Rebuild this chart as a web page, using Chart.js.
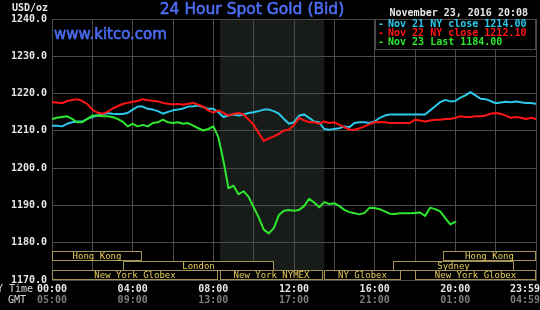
<!DOCTYPE html>
<html>
<head>
<meta charset="utf-8">
<title>24 Hour Spot Gold (Bid)</title>
<script src="https://cdn.jsdelivr.net/npm/chart.js@4.4.1/dist/chart.umd.min.js"></script>
<style>
    html, body { margin: 0; padding: 0; background: #000; }
    canvas { display: block; }
</style>
</head>
<body>
<canvas id="goldChart" width="540" height="310"></canvas>
<script>
// NY time in hours, one reading every 15 minutes
const hours = [
    0, 0.25, 0.5, 0.75, 1, 1.25, 1.5, 1.75, 2, 2.25, 2.5, 2.75,
    3, 3.25, 3.5, 3.75, 4, 4.25, 4.5, 4.75, 5, 5.25, 5.5, 5.75,
    6, 6.25, 6.5, 6.75, 7, 7.25, 7.5, 7.75, 8, 8.25, 8.5, 8.75,
    9, 9.25, 9.5, 9.75, 10, 10.25, 10.5, 10.75, 11, 11.25, 11.5, 11.75,
    12, 12.25, 12.5, 12.75, 13, 13.25, 13.5, 13.75, 14, 14.25, 14.5, 14.75,
    15, 15.25, 15.5, 15.75, 16, 16.25, 16.5, 16.75, 17, 17.25, 17.5, 17.75,
    18, 18.25, 18.5, 18.75, 19, 19.25, 19.5, 19.75, 20, 20.25, 20.5, 20.75,
    21, 21.25, 21.5, 21.75, 22, 22.25, 22.5, 22.75, 23, 23.25, 23.5, 23.75,
    24
];

// Nov 21 (cyan)
const nov21 = [
    1211.4, 1211.4, 1211.2, 1211.9, 1212.3, 1212.5, 1212.5, 1213.2, 1213.7, 1214.1, 1214.4, 1214.8,
    1214.6, 1214.5, 1214.5, 1214.8, 1215.7, 1216.5, 1216.5, 1215.9, 1215.7, 1215.3, 1214.6, 1215.1,
    1215.5, 1215.7, 1216.0, 1216.5, 1216.6, 1216.8, 1216.4, 1215.9, 1215.9, 1215.0, 1213.7, 1214.1,
    1214.4, 1214.1, 1214.4, 1214.8, 1215.0, 1215.3, 1215.7, 1215.7, 1215.3, 1214.6, 1213.2, 1211.9,
    1212.3, 1214.1, 1214.4, 1213.5, 1212.5, 1212.3, 1210.5, 1210.3, 1210.5, 1210.7, 1211.2, 1211.0,
    1212.1, 1212.3, 1212.3, 1212.1, 1212.5, 1213.5, 1214.1, 1214.4, 1214.4, 1214.4, 1214.4, 1214.4,
    1214.4, 1214.4, 1214.4, 1215.5, 1216.6, 1217.7, 1218.3, 1217.9, 1218.0, 1218.9, 1219.5, 1220.4,
    1219.5, 1218.6, 1218.5, 1218.0, 1217.4, 1217.6, 1217.8, 1217.7, 1217.9, 1217.7, 1217.5, 1217.5,
    1217.3
];

// Nov 22 (red)
const nov22 = [
    1217.7, 1217.6, 1217.4, 1218.0, 1218.3, 1218.5, 1218.0, 1217.2, 1215.7, 1214.9, 1214.6, 1215.1,
    1216.0, 1216.6, 1217.2, 1217.5, 1217.8, 1218.0, 1218.5, 1218.2, 1218.1, 1217.9, 1217.5, 1217.3,
    1217.1, 1217.2, 1217.0, 1217.3, 1217.5, 1217.0, 1216.5, 1215.5, 1214.9, 1215.5, 1214.8, 1214.1,
    1214.5, 1214.8, 1214.4, 1213.0, 1211.6, 1209.4, 1207.3, 1208.0, 1208.5, 1209.2, 1210.1, 1210.3,
    1211.6, 1213.5, 1212.8, 1212.3, 1212.3, 1211.9, 1212.5, 1212.1, 1212.3, 1211.6, 1211.0, 1210.3,
    1210.3, 1210.7, 1211.2, 1211.8, 1212.3, 1212.4, 1212.3, 1212.1, 1212.1, 1212.1, 1212.1, 1212.1,
    1213.0, 1212.8, 1212.5, 1212.8, 1213.0, 1213.0, 1213.2, 1213.2, 1213.5, 1213.9, 1213.7, 1213.7,
    1213.9, 1213.9, 1214.1, 1214.6, 1214.8, 1214.6, 1214.1, 1213.5, 1213.7, 1213.5, 1213.2, 1213.5,
    1213.2
];

// Nov 23 (green), runs up to 20:00
const nov23 = [
    1213.2, 1213.5, 1213.7, 1213.9, 1213.2, 1212.3, 1212.3, 1213.2, 1214.1, 1214.1, 1213.9, 1213.9,
    1213.7, 1213.2, 1212.5, 1211.2, 1211.9, 1211.2, 1211.6, 1211.2, 1212.1, 1212.3, 1213.0, 1212.3,
    1212.1, 1212.3, 1211.9, 1212.1, 1211.4, 1210.7, 1210.1, 1210.5, 1211.2, 1208.3, 1202.0, 1194.6,
    1195.3, 1193.0, 1193.8, 1192.3, 1189.5, 1186.8, 1183.5, 1182.5, 1183.9, 1187.4, 1188.6, 1188.8,
    1188.6, 1188.8, 1189.8, 1191.8, 1190.8, 1189.5, 1190.9, 1190.4, 1190.6, 1189.8, 1188.8, 1188.2,
    1187.9, 1187.6, 1188.0, 1189.4, 1189.3, 1189.0, 1188.4, 1187.8, 1187.7, 1187.9, 1187.9, 1187.9,
    1188.0, 1188.1, 1187.2, 1189.4, 1189.0, 1188.4, 1186.6, 1184.9, 1185.6
];

const seriesLabels = ['Nov 21 NY close 1214.00', 'Nov 22 NY close 1212.10', 'Nov 23 Last 1184.00'];
const seriesColors = ['#2cc8ea', '#ff1414', '#2ee82e'];

// Axis labels
const nyTimeTicks = [0, 4, 8, 12, 16, 20, 24];
const nyTimeLabels = ['00:00', '04:00', '08:00', '12:00', '16:00', '20:00', '23:59'];
const gmtLabels = ['05:00', '09:00', '13:00', '17:00', '21:00', '01:00', '04:59'];

// Trading sessions (NY hours) and their row in the strip
const sessionNames = ['Hong Kong', 'London', 'New York Globex', 'New York NYMEX', 'NY Globex', 'New York Globex', 'Sydney', 'Hong Kong'];
const sessionStart = [0, 3.5, 0, 8.33, 13.5, 18, 16.9, 19.4];
const sessionEnd = [4.45, 11, 8.25, 13.42, 17.3, 24, 22.9, 24];
const sessionRow = [0, 1, 2, 2, 2, 2, 1, 0];

// NYMEX open hours (shaded)
const comexOpen = 8.33;
const comexClose = 13.5;

const MONO = '"DejaVu Sans Mono", monospace';
const SANS = '"DejaVu Sans", sans-serif';

function toPoints(values) {
    return values.map((v, i) => ({ x: hours[i], y: v }));
}

/**
 * Background and NYMEX shading, under the grid
 */
const backdropPlugin = {
    id: 'backdrop',
    beforeDraw(chart) {
        const ctx = chart.ctx;
        const area = chart.chartArea;
        const x = chart.scales.x;
        ctx.save();
        ctx.fillStyle = '#000';
        ctx.fillRect(0, 0, chart.width, chart.height);
        ctx.fillStyle = '#181c18';
        const x0 = x.getPixelForValue(comexOpen);
        const x1 = x.getPixelForValue(comexClose);
        ctx.fillRect(x0, area.top, x1 - x0, area.bottom - area.top);
        ctx.restore();
    }
};

// Slightly heavier text, like the original bitmap titles
function heavyText(ctx, text, x, y, color) {
    ctx.fillStyle = color;
    ctx.strokeStyle = color;
    ctx.lineWidth = 0.6;
    ctx.fillText(text, x, y);
    ctx.strokeText(text, x, y);
}

/**
 * Titles, legend box, session strip, time labels
 */
const overlayPlugin = {
    id: 'overlay',
    afterDraw(chart) {
        const ctx = chart.ctx;
        const area = chart.chartArea;
        ctx.save();

        // Titles
        ctx.textBaseline = 'middle';
        ctx.textAlign = 'center';
        ctx.font = '15.5px ' + SANS;
        heavyText(ctx, '24 Hour Spot Gold (Bid)', 252, 10, '#4d6ef5');
        ctx.textAlign = 'left';
        ctx.font = '15px ' + SANS;
        heavyText(ctx, 'www.kitco.com', 54, 35, '#4a6cf2');

        ctx.font = 'bold 10px ' + MONO;
        ctx.fillStyle = '#e6e6e6';
        ctx.fillText('USD/oz', 12, 8);
        ctx.textAlign = 'right';
        ctx.fillText('November 23, 2016 20:08', 528, 13);

        // Legend box
        const lx = 375;
        ctx.fillStyle = '#000';
        ctx.fillRect(lx, area.top, area.right - lx, 30);
        ctx.strokeStyle = '#4a4a4a';
        ctx.lineWidth = 1;
        ctx.strokeRect(lx + 0.5, area.top + 0.5, area.right - lx - 1, 30);
        ctx.textAlign = 'left';
        seriesLabels.forEach((label, i) => {
            const y = area.top + 5.5 + i * 9.2;
            ctx.fillStyle = seriesColors[i];
            ctx.fillText('-', lx + 3, y);
            ctx.fillText(label, lx + 13, y);
        });

        drawSessions(chart);
        drawTimeLabels(chart);
        ctx.restore();
    }
};

function drawSessions(chart) {
    const ctx = chart.ctx;
    const x = chart.scales.x;
    const bottom = chart.chartArea.bottom;
    const rowH = 9.7;
    const top0 = bottom - 3 * rowH;
    ctx.font = '9px ' + MONO;
    ctx.textAlign = 'center';
    ctx.textBaseline = 'middle';
    ctx.lineWidth = 1;
    sessionNames.forEach((name, i) => {
        const x0 = Math.round(x.getPixelForValue(sessionStart[i])) + 0.5;
        const x1 = Math.round(x.getPixelForValue(sessionEnd[i])) - 0.5;
        const y0 = Math.round(top0 + sessionRow[i] * rowH) + 0.5;
        const h = Math.round(rowH) - 1;
        ctx.fillStyle = '#000';
        ctx.fillRect(x0, y0, x1 - x0, h);
        ctx.strokeStyle = '#a39355';
        ctx.strokeRect(x0, y0, x1 - x0, h);
        ctx.fillStyle = '#e8cf5c';
        ctx.fillText(name, (x0 + x1) / 2, y0 + h / 2 + 0.5);
    });
}

function drawTimeLabels(chart) {
    const ctx = chart.ctx;
    const x = chart.scales.x;
    ctx.font = 'bold 10px ' + MONO;
    ctx.textBaseline = 'middle';
    nyTimeTicks.forEach((t, i) => {
        const px = x.getPixelForValue(t);
        const last = i === nyTimeTicks.length - 1;
        ctx.textAlign = last ? 'right' : 'center';
        const tx = last ? chart.width : px;
        ctx.fillStyle = '#e6e6e6';
        ctx.fillText(nyTimeLabels[i], tx, 289);
        ctx.fillStyle = '#7c7c7c';
        ctx.fillText(gmtLabels[i], tx, 300);
    });
    ctx.textAlign = 'right';
    ctx.font = '10px ' + MONO;
    ctx.fillStyle = '#d8d8d8';
    ctx.fillText('NY Time', 33, 289);
    ctx.fillText('GMT', 26, 300);
}

const gridColor = '#4a4a4a';

new Chart(document.getElementById('goldChart'), {
    type: 'line',
    data: {
        datasets: [
            { label: seriesLabels[0], data: toPoints(nov21), borderColor: seriesColors[0], order: 3 },
            { label: seriesLabels[1], data: toPoints(nov22), borderColor: seriesColors[1], order: 2 },
            { label: seriesLabels[2], data: toPoints(nov23), borderColor: seriesColors[2], order: 1 }
        ]
    },
    options: {
        responsive: false,
        animation: false,
        events: [],
        layout: { padding: { top: 19, right: 4, left: 0, bottom: 0 } },
        elements: {
            point: { radius: 0 },
            line: { borderWidth: 2, tension: 0, borderCapStyle: 'round', borderJoinStyle: 'round' }
        },
        plugins: {
            legend: { display: false },
            tooltip: { enabled: false },
            title: { display: false }
        },
        scales: {
            x: {
                type: 'linear',
                min: 0,
                max: 24,
                ticks: { display: false, stepSize: 2 },
                grid: { color: gridColor, drawTicks: false },
                border: { color: gridColor },
                afterFit(scale) { scale.height = 30; }
            },
            y: {
                min: 1170,
                max: 1240,
                ticks: {
                    stepSize: 10,
                    padding: 5,
                    color: '#e6e6e6',
                    font: { family: MONO, size: 10, weight: 'bold' },
                    callback: v => v.toFixed(1)
                },
                grid: { color: gridColor, drawTicks: false },
                border: { color: gridColor },
                afterFit(scale) { scale.width = 52; }
            }
        }
    },
    plugins: [backdropPlugin, overlayPlugin]
});
</script>
</body>
</html>
